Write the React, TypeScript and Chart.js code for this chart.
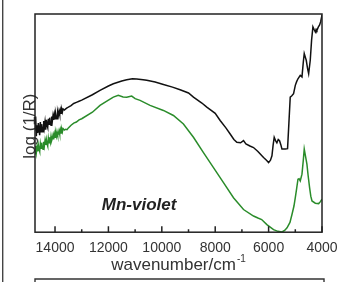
import React, { useEffect, useRef } from "react";
import { Chart, registerables } from "chart.js";

Chart.register(...registerables);

// x-axis ticks (wavenumber, cm^-1)
const xMajorTicks = [14000, 12000, 10000, 8000, 6000, 4000];
const xMinorTicks = [13000, 11000, 9000, 7000, 5000];
const xMin = 4000;
const xMax = 14750;

// Black spectrum
const blackWn = [
  14750, 14725, 14700, 14675, 14650, 14625, 14600, 14575, 14550, 14525, 14500, 14475, 14450, 14425, 14400,
  14375, 14350, 14325, 14300, 14275, 14250, 14225, 14200, 14175, 14150, 14125, 14100, 14075, 14050, 14025,
  14000, 13975, 13950, 13925, 13900, 13875, 13850, 13825, 13800, 13775, 13750, 13725, 13700, 13650, 13600,
  13550, 13500, 13400, 13300, 13200, 13100, 13000, 12600, 12315, 12000, 11815, 11500, 11315, 11100,
  10940, 10700, 10565, 10250, 9940, 9600, 9315, 9000, 8815, 8500, 8315, 8000, 7815, 7600, 7440,
  7300, 7190, 7050, 6940, 6850, 6700, 6565, 6400, 6190, 6080, 6000, 5930, 5875, 5830, 5790,
  5740, 5690, 5640, 5590, 5540, 5500, 5375, 5290, 5240, 5190, 5130, 5065, 5000, 4950, 4900,
  4815, 4750, 4700, 4665, 4620, 4590, 4540, 4500, 4440, 4390, 4340, 4300, 4250, 4220, 4190,
  4140, 4090, 4050, 4000,
];
const blackVal = [
  0.47, 0.53, 0.44, 0.49, 0.455, 0.5, 0.47, 0.445, 0.505, 0.46, 0.495, 0.475, 0.46, 0.51, 0.48,
  0.505, 0.47, 0.515, 0.49, 0.48, 0.52, 0.495, 0.525, 0.5, 0.49, 0.53, 0.51, 0.535, 0.515, 0.54,
  0.52, 0.545, 0.53, 0.52, 0.55, 0.535, 0.555, 0.54, 0.56, 0.545, 0.562, 0.55, 0.565, 0.56, 0.565,
  0.57, 0.573, 0.58, 0.59, 0.595, 0.6, 0.605, 0.63, 0.65, 0.67, 0.68, 0.693, 0.699, 0.703,
  0.702, 0.699, 0.696, 0.688, 0.677, 0.665, 0.653, 0.638, 0.619, 0.592, 0.573, 0.545, 0.512, 0.478, 0.45,
  0.425, 0.412, 0.41, 0.42, 0.405, 0.395, 0.388, 0.37, 0.342, 0.33, 0.319, 0.33, 0.35, 0.4, 0.435,
  0.42, 0.41, 0.425, 0.419, 0.4, 0.381, 0.381, 0.383, 0.5, 0.619, 0.625, 0.635, 0.673, 0.69, 0.703,
  0.719, 0.712, 0.78, 0.819, 0.8, 0.788, 0.75, 0.727, 0.788, 0.88, 0.941, 0.93, 0.918, 0.93, 0.925,
  0.94, 0.95, 0.965, 0.995,
];

// Green spectrum
const greenWn = [
  14750, 14725, 14700, 14675, 14650, 14625, 14600, 14575, 14550, 14525, 14500, 14475, 14450, 14425, 14400,
  14375, 14350, 14325, 14300, 14275, 14250, 14225, 14200, 14175, 14150, 14125, 14100, 14075, 14050, 14025,
  14000, 13975, 13950, 13925, 13900, 13875, 13850, 13825, 13800, 13775, 13750, 13725, 13700, 13650, 13600,
  13550, 13500, 13400, 13300, 13200, 13100, 13000, 12600, 12315, 12000, 11815, 11630, 11450, 11315, 11200,
  11127, 11000, 10815, 10440, 9940, 9565, 9190, 8815, 8440, 8065, 7690, 7315, 6940, 6565, 6400,
  6260, 6065, 5815, 5650, 5500, 5400, 5310, 5200, 5125, 5050, 5000, 4950, 4900, 4860, 4815,
  4750, 4700, 4665, 4620, 4565, 4520, 4465, 4420, 4375, 4250, 4125, 4060, 4000,
];
const greenVal = [
  0.36, 0.395, 0.365, 0.39, 0.37, 0.4, 0.38, 0.37, 0.405, 0.385, 0.41, 0.39, 0.38, 0.415, 0.395,
  0.42, 0.4, 0.425, 0.405, 0.395, 0.43, 0.41, 0.435, 0.415, 0.44, 0.42, 0.43, 0.445, 0.425, 0.45,
  0.435, 0.455, 0.44, 0.46, 0.445, 0.45, 0.465, 0.45, 0.47, 0.455, 0.472, 0.46, 0.475, 0.468, 0.472,
  0.47, 0.478, 0.49, 0.5, 0.505, 0.515, 0.52, 0.55, 0.581, 0.605, 0.619, 0.627, 0.62, 0.619, 0.622,
  0.624, 0.612, 0.604, 0.581, 0.558, 0.535, 0.496, 0.435, 0.365, 0.296, 0.227, 0.158, 0.104, 0.074, 0.065,
  0.058, 0.035, 0.012, 0.004, 0.001, 0.008, 0.02, 0.045, 0.081, 0.12, 0.158, 0.2, 0.243, 0.245, 0.235,
  0.266, 0.33, 0.381, 0.35, 0.312, 0.26, 0.204, 0.165, 0.143, 0.133, 0.131, 0.14, 0.151,
];

const sampleLabel = "Mn-violet";
const sampleLabelWn = 10850;
const sampleLabelVal = 0.1;
const yTitle = "log (1/R)";
const xTitleMain = "wavenumber/cm";
const xTitleSup = "-1";

const FONT = '"Liberation Sans", Arial, sans-serif';

const decorPlugin = {
  id: "decor",
  beforeDatasetsDraw(chart: any) {
    const { ctx, chartArea } = chart;
    ctx.save();
    // outer frame line on the left of the figure
    ctx.strokeStyle = "#444";
    ctx.lineWidth = 1.4;
    ctx.beginPath();
    ctx.moveTo(2.7, 0);
    ctx.lineTo(2.7, chart.height);
    ctx.stroke();
    // top of the next panel's box
    ctx.strokeStyle = "#333";
    ctx.beginPath();
    ctx.moveTo(chartArea.left, chart.height);
    ctx.lineTo(chartArea.left, 279);
    ctx.lineTo(chartArea.right + 2, 279);
    ctx.lineTo(chartArea.right + 2, chart.height);
    ctx.stroke();
    // y title
    ctx.fillStyle = "#333";
    ctx.font = `17px ${FONT}`;
    ctx.translate(30, (chartArea.top + chartArea.bottom) / 2 + 3);
    ctx.rotate(-Math.PI / 2);
    ctx.textAlign = "center";
    ctx.textBaseline = "middle";
    ctx.fillText(yTitle, 0, 0);
    ctx.restore();
  },
  afterDraw(chart: any) {
    const { ctx, chartArea, scales } = chart;
    const x = scales.x;
    const y = scales.y;
    ctx.save();
    // plot frame
    ctx.strokeStyle = "#222";
    ctx.lineWidth = 1.5;
    ctx.strokeRect(chartArea.left, chartArea.top, chartArea.right - chartArea.left, chartArea.bottom - chartArea.top);
    // inward ticks
    ctx.beginPath();
    xMajorTicks.forEach((v) => {
      const px = x.getPixelForValue(v);
      ctx.moveTo(px, chartArea.bottom);
      ctx.lineTo(px, chartArea.bottom - 6);
    });
    xMinorTicks.forEach((v) => {
      const px = x.getPixelForValue(v);
      ctx.moveTo(px, chartArea.bottom);
      ctx.lineTo(px, chartArea.bottom - 3);
    });
    ctx.stroke();
    // sample label
    ctx.fillStyle = "#222";
    ctx.font = `italic bold 17px ${FONT}`;
    ctx.textAlign = "center";
    ctx.textBaseline = "alphabetic";
    ctx.fillText(sampleLabel, x.getPixelForValue(sampleLabelWn), y.getPixelForValue(sampleLabelVal));
    // x title with superscript
    ctx.fillStyle = "#333";
    ctx.font = `17px ${FONT}`;
    const w1 = ctx.measureText(xTitleMain).width;
    ctx.font = `10px ${FONT}`;
    const w2 = ctx.measureText(xTitleSup).width;
    const cx = (chartArea.left + chartArea.right) / 2;
    const start = cx - (w1 + w2 + 1) / 2;
    ctx.textAlign = "left";
    ctx.font = `17px ${FONT}`;
    ctx.fillText(xTitleMain, start, 270);
    ctx.font = `10px ${FONT}`;
    ctx.fillText(xTitleSup, start + w1 + 1, 262);
    ctx.restore();
  },
};

export default function App() {
  const canvasRef = useRef<HTMLCanvasElement | null>(null);

  useEffect(() => {
    if (!canvasRef.current) return;
    const blackData = blackWn.map((w, i) => ({ x: w, y: blackVal[i] }));
    const greenData = greenWn.map((w, i) => ({ x: w, y: greenVal[i] }));
    const chart = new Chart(canvasRef.current, {
      type: "line",
      data: {
        datasets: [
          {
            data: blackData,
            borderColor: "#111",
            borderWidth: 1.5,
            pointRadius: 0,
            tension: 0,
            fill: false,
          },
          {
            data: greenData,
            borderColor: "#2a8c2a",
            borderWidth: 1.5,
            pointRadius: 0,
            tension: 0,
            fill: false,
          },
        ],
      },
      options: {
        animation: false,
        responsive: true,
        maintainAspectRatio: false,
        layout: { padding: { left: 35, right: 20, top: 14, bottom: 17 } },
        plugins: { legend: { display: false }, tooltip: { enabled: false } },
        scales: {
          x: {
            type: "linear",
            min: xMin,
            max: xMax,
            reverse: true,
            afterBuildTicks: (scale: any) => {
              scale.ticks = xMajorTicks.map((v) => ({ value: v }));
            },
            afterFit: (scale: any) => {
              scale.paddingLeft = 0;
              scale.paddingRight = 0;
            },
            grid: { display: false, drawTicks: false },
            border: { display: false },
            ticks: {
              padding: 8,
              maxRotation: 0,
              autoSkip: false,
              color: "#333",
              font: { family: FONT, size: 14 },
              callback: (v: any) => String(v),
            },
          },
          y: {
            display: false,
            min: 0,
            max: 1,
          },
        },
      },
      plugins: [decorPlugin],
    });
    return () => chart.destroy();
  }, []);

  return (
    <div style={{ position: "fixed", left: 0, top: 0, width: 342, height: 282, background: "#fff" }}>
      <canvas ref={canvasRef} />
    </div>
  );
}
